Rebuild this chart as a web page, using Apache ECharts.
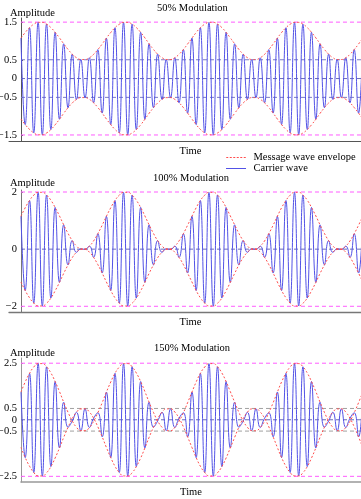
<!DOCTYPE html>
<html><head><meta charset="utf-8">
<script src="https://cdn.jsdelivr.net/npm/echarts@6/dist/echarts.min.js"></script>
<style>html,body{margin:0;padding:0;background:#fff}#c{width:361px;height:499px}</style>
</head><body><div id="c"></div>
<script>
// ---- data ----
const plotTitles = ['50% Modulation', '100% Modulation', '150% Modulation'];
const time = [0,0.31,0.63,0.94,1.26,1.57,1.88,2.2,2.51,2.83,
  3.14,3.46,3.77,4.08,4.4,4.71,5.03,5.34,5.65,5.97,
  6.28,6.6,6.91,7.23,7.54,7.85,8.17,8.48,8.8,9.11,
  9.42,9.74,10.05,10.37,10.68,11,11.31,11.62,11.94,12.25,
  12.57,12.88,13.19,13.51,13.82,14.14,14.45,14.77,15.08,15.39,
  15.71,16.02,16.34,16.65,16.96,17.28,17.59,17.91,18.22,18.54,
  18.85,19.16,19.48,19.79,20.11,20.42,20.73,21.05,21.36,21.68,
  21.99,22.31,22.62,22.93,23.25,23.56,23.88,24.19,24.5,24.82,
  25.13];
const envelope50 = [
  1.075,1.224,1.351,1.444,1.493,1.494,1.447,1.356,1.23,1.082,0.925,0.776,0.649,0.556,0.507,0.506,0.553,0.644,0.77,0.918,
  1.075,1.224,1.351,1.444,1.493,1.494,1.447,1.356,1.23,1.082,0.925,0.776,0.649,0.556,0.507,0.506,0.553,0.644,0.77,0.918,
  1.075,1.224,1.351,1.444,1.493,1.494,1.447,1.356,1.23,1.082,0.925,0.776,0.649,0.556,0.507,0.506,0.553,0.644,0.77,0.918,
  1.075,1.224,1.351,1.444,1.493,1.494,1.447,1.356,1.23,1.082,0.925,0.776,0.649,0.556,0.507,0.506,0.553,0.644,0.77,0.918,
  1.075];
const carrier50 = [
  1.075,-1.224,1.351,-1.444,1.493,-1.494,1.447,-1.356,1.23,-1.082,0.925,-0.776,0.649,-0.556,0.507,-0.506,0.553,-0.644,0.77,-0.918,
  1.075,-1.224,1.351,-1.444,1.493,-1.494,1.447,-1.356,1.23,-1.082,0.925,-0.776,0.649,-0.556,0.507,-0.506,0.553,-0.644,0.77,-0.918,
  1.075,-1.224,1.351,-1.444,1.493,-1.494,1.447,-1.356,1.23,-1.082,0.925,-0.776,0.649,-0.556,0.507,-0.506,0.553,-0.644,0.77,-0.918,
  1.075,-1.224,1.351,-1.444,1.493,-1.494,1.447,-1.356,1.23,-1.082,0.925,-0.776,0.649,-0.556,0.507,-0.506,0.553,-0.644,0.77,-0.918,
  1.075];
const envelope100 = [
  1.149,1.448,1.702,1.888,1.987,1.989,1.894,1.712,1.46,1.163,0.851,0.552,0.298,0.112,0.013,0.011,0.106,0.288,0.54,0.837,
  1.149,1.448,1.702,1.888,1.987,1.989,1.894,1.712,1.46,1.163,0.851,0.552,0.298,0.112,0.013,0.011,0.106,0.288,0.54,0.837,
  1.149,1.448,1.702,1.888,1.987,1.989,1.894,1.712,1.46,1.163,0.851,0.552,0.298,0.112,0.013,0.011,0.106,0.288,0.54,0.837,
  1.149,1.448,1.702,1.888,1.987,1.989,1.894,1.712,1.46,1.163,0.851,0.552,0.298,0.112,0.013,0.011,0.106,0.288,0.54,0.837,
  1.149];
const carrier100 = [
  1.149,-1.448,1.702,-1.888,1.987,-1.989,1.894,-1.712,1.46,-1.163,0.851,-0.552,0.298,-0.112,0.013,-0.011,0.106,-0.288,0.54,-0.837,
  1.149,-1.448,1.702,-1.888,1.987,-1.989,1.894,-1.712,1.46,-1.163,0.851,-0.552,0.298,-0.112,0.013,-0.011,0.106,-0.288,0.54,-0.837,
  1.149,-1.448,1.702,-1.888,1.987,-1.989,1.894,-1.712,1.46,-1.163,0.851,-0.552,0.298,-0.112,0.013,-0.011,0.106,-0.288,0.54,-0.837,
  1.149,-1.448,1.702,-1.888,1.987,-1.989,1.894,-1.712,1.46,-1.163,0.851,-0.552,0.298,-0.112,0.013,-0.011,0.106,-0.288,0.54,-0.837,
  1.149];
const envelope150 = [
  1.224,1.672,2.053,2.332,2.48,2.483,2.341,2.068,1.69,1.245,0.776,0.328,-0.053,-0.332,-0.48,-0.483,-0.341,-0.068,0.31,0.755,
  1.224,1.672,2.053,2.332,2.48,2.483,2.341,2.068,1.69,1.245,0.776,0.328,-0.053,-0.332,-0.48,-0.483,-0.341,-0.068,0.31,0.755,
  1.224,1.672,2.053,2.332,2.48,2.483,2.341,2.068,1.69,1.245,0.776,0.328,-0.053,-0.332,-0.48,-0.483,-0.341,-0.068,0.31,0.755,
  1.224,1.672,2.053,2.332,2.48,2.483,2.341,2.068,1.69,1.245,0.776,0.328,-0.053,-0.332,-0.48,-0.483,-0.341,-0.068,0.31,0.755,
  1.224];
const carrier150 = [
  1.224,-1.672,2.053,-2.332,2.48,-2.483,2.341,-2.068,1.69,-1.245,0.776,-0.328,-0.053,0.332,-0.48,0.483,-0.341,0.068,0.31,-0.755,
  1.224,-1.672,2.053,-2.332,2.48,-2.483,2.341,-2.068,1.69,-1.245,0.776,-0.328,-0.053,0.332,-0.48,0.483,-0.341,0.068,0.31,-0.755,
  1.224,-1.672,2.053,-2.332,2.48,-2.483,2.341,-2.068,1.69,-1.245,0.776,-0.328,-0.053,0.332,-0.48,0.483,-0.341,0.068,0.31,-0.755,
  1.224,-1.672,2.053,-2.332,2.48,-2.483,2.341,-2.068,1.69,-1.245,0.776,-0.328,-0.053,0.332,-0.48,0.483,-0.341,0.068,0.31,-0.755,
  1.224];
const peakLevels50 = [1.5, -1.5];
const peakLevels100 = [2, -2];
const peakLevels150 = [2.5, -2.5];
const guideLevels50 = [0.5, 0, -0.5];
const guideLevels100 = [0];
const guideLevels150 = [0.5, 0, -0.5];
const yTicks50 = [-1.5, -0.5, 0, 0.5, 1.5];
const yTicks100 = [-2, 0, 2];
const yTicks150 = [-2.5, -0.5, 0, 0.5, 2.5];
const tStart = 0, tEnd = 25;

// ---- layout / style ----
const FONT = "'Liberation Serif','Times New Roman',serif";
const RED = '#ff4d4d', BLUE = '#5252e6';
const plots = [
  {env: envelope50, car: carrier50, peaks: peakLevels50, guides: guideLevels50, ticks: yTicks50,
   grid: {left: 9, right: 0, top: 18, height: 123}, xmin: -0.88, yOffset: -12, ymin: -1.66, ymax: 1.61, axisColor: '#555', axisW: 1,
   guideColors: ['#7a7ac4', '#6a6ab8', '#7a7ac4']},
  {env: envelope100, car: carrier100, peaks: peakLevels100, guides: guideLevels100, ticks: yTicks100,
   grid: {left: 9, right: 0, top: 190, height: 122}, xmin: -0.88, yOffset: -12, ymin: -2.2, ymax: 2.07, axisColor: '#777', axisW: 1.3,
   guideColors: ['#6a6ab8']},
  {env: envelope150, car: carrier150, peaks: peakLevels150, guides: guideLevels150, ticks: yTicks150,
   grid: {left: 21, right: 0, top: 358, height: 124}, xmin: 0, yOffset: 0, ymin: -2.75, ymax: 2.73, axisColor: '#999', axisW: 1.6,
   guideColors: ['#a0a0a0', '#6a6ab8', '#a0a0a0']}
];
const titleTops = [2, 172, 342];
const titleLefts = [157, 153, 154];
const ampTops = [7, 177, 347];

const fmt = v => v < 0 ? '\u2212' + Math.abs(v) : String(v);
const txt = {fontFamily: FONT, fontSize: 10.5, fontWeight: 'normal', color: '#000', lineHeight: 12};
const DASH_ICON = 'path://M0,0h2v1h-2zM3.5,0h2v1h-2zM7,0h2v1h-2zM10.5,0h2v1h-2zM14,0h2v1h-2zM17.5,0h2v1h-2z';
const SOLID_ICON = 'path://M0,0h20v1h-20z';

const option = {
  animation: false,
  backgroundColor: '#fff',
  title: plotTitles.map((t, i) => ({
    text: t, left: titleLefts[i], top: titleTops[i], padding: 0, textStyle: txt
  })).concat(ampTops.map(t => ({
    text: 'Amplitude', left: 10, top: t, padding: 0, textStyle: txt
  }))),
  legend: {
    data: [
      {name: 'Message wave envelope', icon: DASH_ICON,
       itemStyle: {color: RED, borderWidth: 0, opacity: 1},
       lineStyle: {color: RED, width: 1, type: [2, 1.5], opacity: 1}},
      {name: 'Carrier wave', icon: SOLID_ICON,
       itemStyle: {color: BLUE, borderWidth: 0, opacity: 1},
       lineStyle: {color: BLUE, width: 1, type: 'solid', opacity: 1}}
    ],
    orient: 'vertical', left: 226, top: 152, itemWidth: 21, itemHeight: 1, itemGap: 0, padding: 0,
    textStyle: {fontFamily: FONT, fontSize: 10.5, color: '#000', lineHeight: 10, padding: [0, 0, 0, 2]}
  },
  grid: plots.map(p => Object.assign({outerBoundsMode: 'none', containLabel: false}, p.grid)),
  xAxis: plots.map((p, i) => ({
    type: 'value', gridIndex: i, min: p.xmin, max: tEnd,
    name: 'Time', nameLocation: 'middle', nameGap: 4,
    nameTextStyle: {fontFamily: FONT, fontSize: 10.5, color: '#000', lineHeight: 12, verticalAlign: 'top',
      padding: i < 2 ? [0, 0, 0, 11] : 0},
    axisLine: {onZero: false, lineStyle: {color: p.axisColor, width: p.axisW}},
    axisTick: {show: false}, axisLabel: {show: false}, splitLine: {show: false}
  })),
  yAxis: plots.map((p, i) => ({
    type: 'value', gridIndex: i, min: p.ymin, max: p.ymax, offset: p.yOffset,
    axisLine: {onZero: false, lineStyle: {color: p.axisColor, width: 1}},
    axisTick: {show: true, inside: true, length: 2, customValues: p.ticks, lineStyle: {color: p.axisColor}},
    axisLabel: {customValues: p.ticks, formatter: fmt, margin: 4,
      fontFamily: FONT, fontSize: 10.5, color: '#000'},
    splitLine: {show: false}
  })),
  series: []
};

plots.forEach((p, i) => {
  p.peaks.forEach(v => option.series.push({
    type: 'line', xAxisIndex: i, yAxisIndex: i, silent: true, symbol: 'none', z: 1,
    data: [[tStart, v], [tEnd, v]],
    lineStyle: {color: '#ff5cff', width: 1, type: [4, 3]}
  }));
  p.guides.forEach((v, j) => option.series.push({
    type: 'line', xAxisIndex: i, yAxisIndex: i, silent: true, symbol: 'none', z: 1,
    data: [[tStart, v], [tEnd, v]],
    lineStyle: {color: p.guideColors[j], width: 1, type: [4, 3]}
  }));
  option.series.push({
    name: 'Carrier wave', type: 'line', xAxisIndex: i, yAxisIndex: i, symbol: 'none', smooth: true, z: 2,
    data: time.map((t, k) => [t, p.car[k]]),
    lineStyle: {color: BLUE, width: 1},
    itemStyle: {color: BLUE}
  });
  option.series.push({
    name: 'Message wave envelope', type: 'line', xAxisIndex: i, yAxisIndex: i, symbol: 'none', smooth: true, z: 3,
    data: time.map((t, k) => [t, p.env[k]]),
    lineStyle: {color: RED, width: 1, type: [2, 2]},
    itemStyle: {color: RED}
  });
  option.series.push({
    name: 'Message wave envelope', type: 'line', xAxisIndex: i, yAxisIndex: i, symbol: 'none', smooth: true, z: 3,
    data: time.map((t, k) => [t, -p.env[k]]),
    lineStyle: {color: RED, width: 1, type: [2, 2]},
    itemStyle: {color: RED}
  });
});

const chart = echarts.init(document.getElementById('c'), null, {renderer: 'canvas'});
chart.setOption(option);
</script>
</body></html>
